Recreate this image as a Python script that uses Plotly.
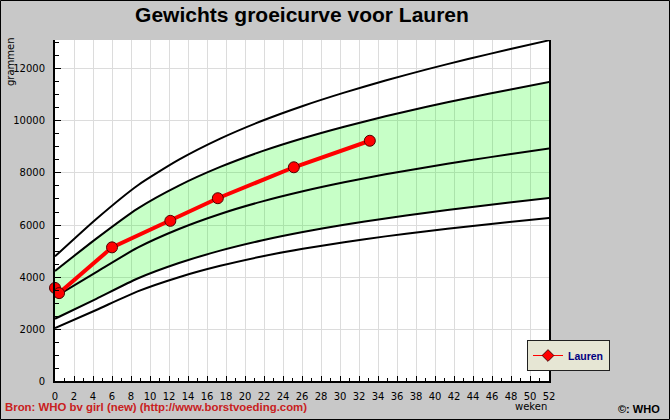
import plotly.graph_objects as go

# WHO weight-for-age reference (girls), in grams, at monthly ages expressed in weeks
ref_weeks = [0, 4.348, 8.696, 13.045, 17.393, 21.741, 26.089, 30.438, 34.786, 39.134, 43.482, 47.830, 52.179]
sd3neg = [2033, 2732, 3446, 3992, 4430, 4788, 5085, 5340, 5562, 5761, 5942, 6112, 6275]
sd2neg = [2395, 3161, 3941, 4536, 5014, 5404, 5729, 6008, 6254, 6473, 6674, 6862, 7043]
sd0 = [3232, 4187, 5128, 5846, 6424, 6899, 7297, 7642, 7949, 8225, 8480, 8719, 8948]
sd2 = [4231, 5476, 6630, 7515, 8233, 8830, 9336, 9781, 10181, 10547, 10885, 11204, 11509]
sd3 = [4793, 6233, 7521, 8512, 9322, 9999, 10578, 11091, 11557, 11985, 12383, 12758, 13117]

# Measurements for Lauren
child_weeks = [0, 0.43, 6.0, 12.14, 17.14, 25.14, 33.14]
child_weight = [3580, 3380, 5140, 6160, 7030, 8220, 9240]
child_name = "Lauren"

x_tick_vals = list(range(0, 53, 2))
y_tick_vals = [0, 2000, 4000, 6000, 8000, 10000, 12000]

title_text = "Gewichts groeicurve voor Lauren"
source_text = "Bron: WHO bv girl (new) (http://www.borstvoeding.com)"
copy_text = "©: WHO"
x_title = "weken"
y_title = "grammen"

W, H = 670, 420
ML, MR, MT, MB = 55, 121, 40, 39
PW, PH = W - ML - MR, H - MT - MB

fig = go.Figure()
line_style = dict(color="black", width=2, shape="spline", smoothing=0.6)
fill_color = "rgba(0,255,0,0.22)"

fig.add_trace(go.Scatter(x=ref_weeks, y=sd3neg, mode="lines", line=line_style, showlegend=False, hoverinfo="skip"))
fig.add_trace(go.Scatter(x=ref_weeks, y=sd2neg, mode="lines", line=line_style, showlegend=False, hoverinfo="skip"))
fig.add_trace(go.Scatter(x=ref_weeks, y=sd2, mode="lines", line=line_style, fill="tonexty",
                         fillcolor=fill_color, showlegend=False, hoverinfo="skip"))
fig.add_trace(go.Scatter(x=ref_weeks, y=sd0, mode="lines", line=line_style, showlegend=False, hoverinfo="skip"))
fig.add_trace(go.Scatter(x=ref_weeks, y=sd3, mode="lines", line=line_style, showlegend=False, hoverinfo="skip"))

fig.add_trace(go.Scatter(
    x=child_weeks, y=child_weight, mode="lines+markers",
    line=dict(color="#ff0000", width=4),
    marker=dict(symbol="circle", size=11, color="#ff0000", line=dict(color="#500000", width=1)),
    cliponaxis=False, showlegend=False,
))
# legend entry (diamond symbol as in the original legend)
fig.add_trace(go.Scatter(
    x=[None], y=[None], mode="lines+markers", name=child_name,
    line=dict(color="#ff0000", width=1),
    marker=dict(symbol="diamond", size=9, color="#ff0000", line=dict(color="#500000", width=1)),
))

tick_font = dict(family="DejaVu Sans", size=10, color="black")

fig.update_layout(
    width=W, height=H,
    margin=dict(l=ML, r=MR, t=MT, b=MB),
    paper_bgcolor="#c8c8c8",
    plot_bgcolor="white",
    title=dict(text="<b>" + title_text + "</b>", x=0.5, xref="paper", xanchor="center",
               y=1 - 15 / H, yref="container", yanchor="middle",
               font=dict(family="Liberation Sans", size=21, color="black")),
    xaxis=dict(range=[0, 52], tickvals=x_tick_vals, ticktext=[str(v) for v in x_tick_vals],
               showgrid=True, gridcolor="#dcdcdc", gridwidth=1, zeroline=False,
               showline=True, linecolor="black", linewidth=2,
               ticks="inside", ticklen=5, tickcolor="black", tickwidth=1,
               minor=dict(dtick=1, ticks="inside", ticklen=3, tickcolor="black", showgrid=False),
               tickfont=tick_font, ticklabelstandoff=5, automargin=False, fixedrange=True),
    yaxis=dict(range=[0, 13115], tickvals=y_tick_vals, ticktext=[str(v) for v in y_tick_vals],
               showgrid=True, gridcolor="#dcdcdc", gridwidth=1, zeroline=False,
               showline=True, linecolor="black", linewidth=2, mirror=True,
               ticks="inside", ticklen=6, tickcolor="black", tickwidth=1,
               minor=dict(dtick=500, ticks="inside", ticklen=4, tickcolor="black", showgrid=False),
               tickfont=tick_font, ticklabelstandoff=6, automargin=False, fixedrange=True),
    legend=dict(x=(527 - ML) / PW, y=(H - MB - 340) / PH, xanchor="left", yanchor="top",
                bgcolor="#e6e6d4", bordercolor="#202020", borderwidth=1,
                font=dict(family="Liberation Sans", size=10.5, color="#000080", weight="bold"),
                itemwidth=30, tracegroupgap=0),
    showlegend=True,
)

fig.add_annotation(text=x_title, xref="paper", yref="paper", x=1, y=-(406.5 - (H - MB)) / PH,
                   xanchor="right", yanchor="middle", showarrow=False,
                   font=dict(family="DejaVu Sans", size=10, color="black"))
fig.add_annotation(text=y_title, xref="paper", yref="paper", x=-(ML - 10) / PW, y=(H - MB - 62) / PH,
                   xanchor="center", yanchor="middle", textangle=-90, showarrow=False,
                   font=dict(family="DejaVu Sans", size=10, color="black"))
fig.add_annotation(text="<b>" + source_text + "</b>", xref="paper", yref="paper",
                   x=-(ML - 3) / PW, y=-(407 - (H - MB)) / PH, xanchor="left", yanchor="middle",
                   showarrow=False, font=dict(family="Liberation Sans", size=11.4, color="#c82020"))
fig.add_annotation(text="<b>" + copy_text + "</b>", xref="paper", yref="paper",
                   x=(662 - ML) / PW, y=-(409 - (H - MB)) / PH, xanchor="right", yanchor="middle",
                   showarrow=False, font=dict(family="Liberation Sans", size=11, color="black"))

# outer frame
fig.add_shape(type="rect", xref="paper", yref="paper",
              x0=-(ML - 0.5) / PW, x1=1 + (MR - 0.5) / PW, y0=-(MB - 0.5) / PH, y1=1 + (MT - 0.5) / PH,
              line=dict(color="black", width=1), layer="above")

fig.write_html("out.html", config={"displayModeBar": False},
               post_script="document.body.style.margin='0px';document.body.style.overflow='hidden';")
